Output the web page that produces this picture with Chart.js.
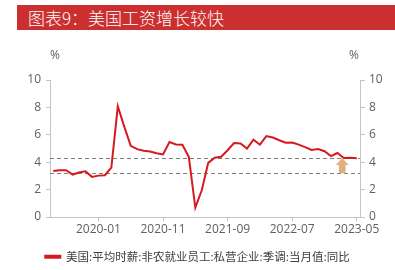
<!DOCTYPE html>
<html>
<head>
<meta charset="utf-8">
<script src="https://cdn.jsdelivr.net/npm/chart.js@4.4.1/dist/chart.umd.min.js"></script>
<style>
  html, body { margin: 0; padding: 0; background: #fff; }
  #wrap { position: relative; width: 395px; height: 270px; overflow: hidden; }
  #title {
    position: absolute; left: 17px; top: 5px; width: 367px; height: 25px;
    padding-left: 11px; background: #cc2f2f; color: #fff;
    font: 300 17px "Noto Sans CJK SC", sans-serif; line-height: 25px; z-index: 2;
  }
  #chart { position: absolute; left: 0; top: 0; }
</style>
</head>
<body>
<div id="wrap">
  <div id="title">图表9：美国工资增长较快</div>
  <canvas id="chart" width="395" height="270"></canvas>
</div>
<script>
const months = [
  "2019-06", "2019-07", "2019-08", "2019-09", "2019-10", "2019-11", "2019-12",
  "2020-01", "2020-02", "2020-03", "2020-04", "2020-05", "2020-06", "2020-07", "2020-08", "2020-09", "2020-10", "2020-11", "2020-12",
  "2021-01", "2021-02", "2021-03", "2021-04", "2021-05", "2021-06", "2021-07", "2021-08", "2021-09", "2021-10", "2021-11", "2021-12",
  "2022-01", "2022-02", "2022-03", "2022-04", "2022-05", "2022-06", "2022-07", "2022-08", "2022-09", "2022-10", "2022-11", "2022-12",
  "2023-01", "2023-02", "2023-03", "2023-04", "2023-05",
];
const wageGrowth = [
  3.36, 3.42, 3.42, 3.1, 3.25, 3.33, 2.93,
  3.02, 3.05, 3.6, 8.08, 6.6, 5.2, 4.95, 4.83, 4.78, 4.65, 4.57, 5.47,
  5.3, 5.27, 4.37, 0.69, 1.95, 3.95, 4.32, 4.4, 4.87, 5.4, 5.36, 5.0,
  5.65, 5.28, 5.91, 5.8, 5.6, 5.42, 5.43, 5.28, 5.1, 4.89, 4.96, 4.8,
  4.45, 4.67, 4.31, 4.33, 4.28,
];
const xTickLabels = ["2020-01", "2020-11", "2021-09", "2022-07", "2023-05"];
const yTicks = [0, 2, 4, 6, 8, 10];
const refLevels = [4.3, 3.2];
const seriesName = "美国:平均时薪:非农就业员工:私营企业:季调:当月值:同比";

const axisColor = "#c4c4c4";
const tickColor = "#606060";
const tickFont = { family: "Open Sans", size: 12 };

const guidesPlugin = {
  id: "guides",
  beforeDatasetsDraw(chart) {
    const { ctx, chartArea, scales } = chart;
    ctx.save();
    ctx.strokeStyle = "#7f7f7f";
    ctx.lineWidth = 1;
    ctx.setLineDash([4, 3]);
    refLevels.forEach((level) => {
      const y = Math.round(scales.y.getPixelForValue(level)) + 0.5;
      ctx.beginPath();
      ctx.moveTo(chartArea.left, y);
      ctx.lineTo(chartArea.right, y);
      ctx.stroke();
    });
    ctx.restore();
  },
  afterDatasetsDraw(chart) {
    const { ctx, chartArea, scales } = chart;
    // arrow from the lower guide up to the upper guide
    const x = scales.x.getPixelForValue(44.75);
    const top = scales.y.getPixelForValue(refLevels[0]);
    const bottom = scales.y.getPixelForValue(refLevels[1]);
    ctx.save();
    ctx.fillStyle = "#ddb07c";
    ctx.beginPath();
    ctx.moveTo(x, top);
    ctx.lineTo(x + 6.5, top + 7);
    ctx.lineTo(x + 3.3, top + 7);
    ctx.lineTo(x + 3.3, bottom);
    ctx.lineTo(x - 3.3, bottom);
    ctx.lineTo(x - 3.3, top + 7);
    ctx.lineTo(x - 6.5, top + 7);
    ctx.closePath();
    ctx.fill();

    ctx.fillStyle = tickColor;
    ctx.font = "12px 'Open Sans'";
    ctx.textAlign = "center";
    ctx.textBaseline = "middle";
    ctx.fillText("%", chartArea.left + 5, chartArea.top - 24);
    ctx.fillText("%", chartArea.right - 6, chartArea.top - 24);
    ctx.restore();
  },
};

function pickTicks(scale) {
  scale.ticks = scale.ticks.filter((t) => xTickLabels.includes(months[t.value]));
}

function yAxis(position, width, tickLength, padding) {
  return {
    type: "linear",
    position,
    min: 0,
    max: 10,
    afterBuildTicks: (scale) => {
      scale.ticks = yTicks.map((v) => ({ value: v }));
    },
    afterFit: (scale) => {
      scale.width = width;
    },
    border: { display: true, color: axisColor },
    grid: { drawOnChartArea: false, color: axisColor, tickLength },
    ticks: { color: tickColor, font: tickFont, padding },
  };
}

new Chart(document.querySelector("#chart"), {
  type: "line",
  data: {
    labels: months,
    datasets: [
      {
        label: seriesName,
        data: wageGrowth,
        borderColor: "#d7191f",
        backgroundColor: "#d7191f",
        borderWidth: 2,
        pointRadius: 0,
        tension: 0,
      },
    ],
  },
  options: {
    responsive: false,
    animation: false,
    layout: { padding: { top: 80, left: 0, right: 0, bottom: -2.5 } },
    plugins: {
      tooltip: { enabled: false },
      legend: {
        position: "bottom",
        labels: {
          boxWidth: 15,
          boxHeight: 2,
          padding: 13,
          color: "#404040",
          font: { family: "Noto Sans CJK SC", size: 11.5 },
        },
      },
    },
    scales: {
      x: {
        type: "category",
        offset: true,
        afterBuildTicks: pickTicks,
        afterFit: (scale) => {
          scale.height = 21;
        },
        border: { display: true, color: axisColor },
        grid: { drawOnChartArea: false, color: axisColor, tickLength: 4, offset: false },
        ticks: { color: tickColor, font: tickFont, padding: 1, autoSkip: false, maxRotation: 0 },
      },
      y: yAxis("left", 50, 4, 5),
      y2: yAxis("right", 35, 5, 4),
    },
  },
  plugins: [guidesPlugin],
});
</script>
</body>
</html>
